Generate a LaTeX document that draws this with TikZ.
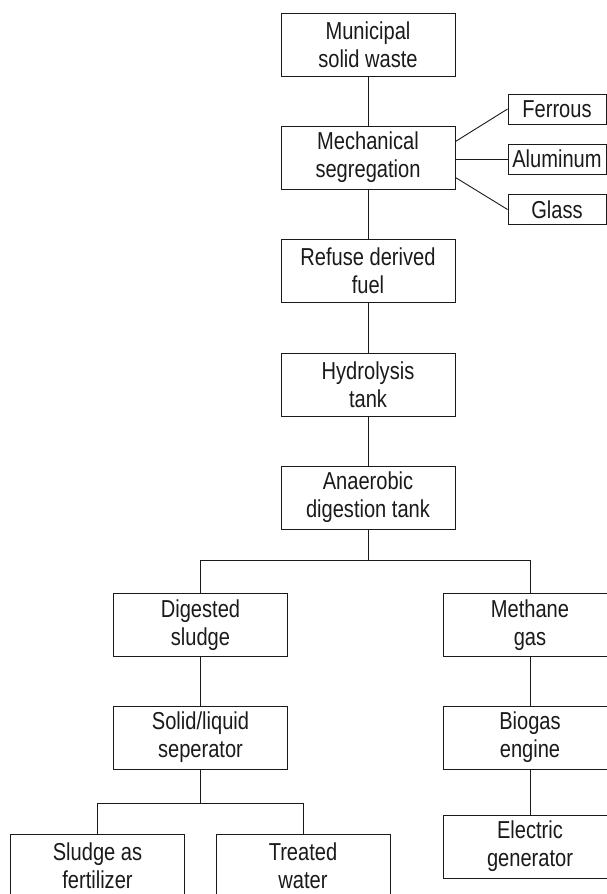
\documentclass[tikz,border=0pt]{standalone}
\usepackage{fontspec}
\setmainfont{Liberation Sans}[FakeStretch=0.82]
\usetikzlibrary{positioning}
\definecolor{ink}{HTML}{1A1A1A}
\tikzstyle{block} = [rectangle, draw, align=center, minimum width=174pt, minimum height=63pt, inner sep=0pt]
\tikzstyle{part} = [rectangle, draw, minimum width=98pt, minimum height=30pt, inner sep=0pt]

\begin{document}
\begin{tikzpicture}[line width=0.9pt, draw=ink, text=ink, font=\fontsize{24.5}{28}\selectfont]
  \useasboundingbox (0pt,0pt) rectangle (607pt,-894pt);
  \clip (0pt,0pt) rectangle (607pt,-894pt);
  \draw (368.0pt, -45.0pt)node[block](msw){Municipal\\solid waste};
  \draw (368.0pt, -157.5pt)node[block](mech){Mechanical\\segregation};
  \draw (368.0pt, -270.5pt)node[block](rdf){Refuse derived\\fuel};
  \draw (368.0pt, -385.0pt)node[block](hyd){Hydrolysis\\tank};
  \draw (368.0pt, -497.5pt)node[block](ana){Anaerobic\\digestion tank};
  \draw (557.0pt, -109.0pt)node[part](fe){Ferrous};
  \draw (557.0pt, -159.0pt)node[part](al){Aluminum};
  \draw (557.0pt, -209.5pt)node[part](gl){Glass};
  \draw (200.5pt, -625.0pt)node[block](dig){Digested\\sludge};
  \draw (530.0pt, -625.0pt)node[block](meth){Methane\\gas};
  \draw (200.5pt, -737.5pt)node[block](sep){Solid/liquid\\seperator};
  \draw (530.0pt, -737.5pt)node[block](eng){Biogas\\engine};
  \draw (530.0pt, -846.5pt)node[block](gen){Electric\\generator};
  \draw (97.5pt, -865.5pt)node[block](fert){Sludge as\\fertilizer};
  \draw (303.0pt, -865.5pt)node[block](wat){Treated\\water};
  \coordinate (b1) at (368.0pt, -560.0pt);
  \coordinate (b2) at (200.5pt, -803.0pt);
  % main line
  \draw (msw) -- (mech);
  \draw (mech) -- (rdf);
  \draw (rdf) -- (hyd);
  \draw (hyd) -- (ana);
  \draw ([yshift=16pt]mech.east) -- (fe.west);
  \draw (mech.east |- al.west) -- (al.west);
  \draw ([yshift=-20pt]mech.east) -- (gl.west);
  % split after digestion
  \draw (ana) -- (b1);
  \draw (dig.north |- b1) -- (531pt, -560pt);
  \draw (dig.north |- b1) -- (dig);
  \draw (meth.north |- b1) -- (meth);
  \draw (dig) -- (sep);
  \draw (meth) -- (eng);
  \draw (eng) -- (gen);
  % split after separator
  \draw (sep) -- (b2);
  \draw (fert.north |- b2) -- (wat.north |- b2);
  \draw (fert.north |- b2) -- (fert);
  \draw (wat.north |- b2) -- (wat);
\end{tikzpicture}
\end{document}
